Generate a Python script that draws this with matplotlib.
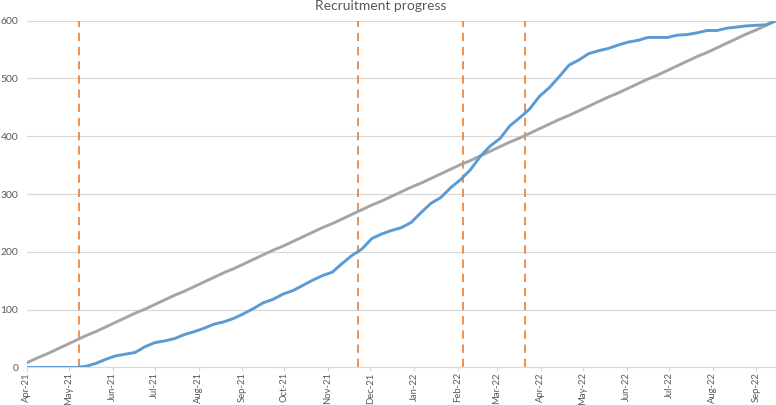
import matplotlib
matplotlib.use("Agg")
import matplotlib.pyplot as plt
import matplotlib.dates as mdates
import pandas as pd

# weekly recruitment, Apr 2021 -> Sep 2022
weeks = pd.date_range("2021-04-01", periods=77, freq="7D")

actual = [0, 0, 0, 0, 0, 0, 2, 7, 14, 20,
          23, 26, 36, 43, 46, 50, 57, 62, 68, 75,
          79, 85, 93, 102, 112, 118, 127, 133, 142, 151,
          159, 165, 180, 194, 205, 223, 231, 237, 242, 251,
          268, 284, 294, 311, 325, 342, 365, 383, 396, 418,
          432, 447, 469, 484, 503, 523, 532, 543, 548, 552,
          558, 563, 566, 571, 571, 571, 575, 576, 579, 583,
          583, 587, 589, 591, 592, 593, 600]

planned = [8, 16, 23, 31, 39, 47, 55, 62, 70, 78,
           86, 94, 101, 109, 117, 125, 132, 140, 148, 156,
           164, 171, 179, 187, 195, 203, 210, 218, 226, 234,
           242, 249, 257, 265, 273, 281, 288, 296, 304, 312,
           319, 327, 335, 343, 351, 358, 366, 374, 382, 390,
           397, 405, 413, 421, 429, 436, 444, 452, 460, 468,
           475, 483, 491, 499, 506, 514, 522, 530, 538, 545,
           553, 561, 569, 577, 584, 592, 600]

# milestone markers
milestones = ["2021-05-08", "2021-11-22", "2022-02-05", "2022-03-21"]

plt.rcParams['font.family'] = ['Lato', 'DejaVu Sans']

fig = plt.figure(figsize=(7.76, 4.05), dpi=100)
ax = fig.add_axes([0.0344, 0.0926, 0.9656, 0.8563])

grid_col = "#d9d9d9"
txt_col = "#595959"

for v in [100, 200, 300, 400, 500, 600]:
    ax.axhline(v, color=grid_col, lw=0.9, zorder=0)

for m in milestones:
    ax.axvline(pd.Timestamp(m), color="#ED7D31", lw=1.2,
               dashes=(5, 3.5), zorder=1)

ax.plot(weeks, planned, color="#A5A5A5", lw=2.1, zorder=2)
ax.plot(weeks, actual, color="#5B9BD5", lw=2.1, zorder=3)

ax.set_ylim(0, 600)
ax.set_xlim(pd.Timestamp("2021-04-01"), pd.Timestamp("2022-09-15"))
ax.set_yticks([0, 100, 200, 300, 400, 500, 600])

ax.xaxis.set_major_locator(mdates.MonthLocator())
ax.xaxis.set_major_formatter(mdates.DateFormatter("%b-%y"))
for lab in ax.get_xticklabels():
    lab.set_rotation(90)

ax.tick_params(axis="x", colors=grid_col, length=3, width=0.9, labelsize=6.8,
               labelcolor=txt_col, pad=0.5)
ax.tick_params(axis="y", length=0, labelsize=7.5, labelcolor=txt_col, pad=6)

for s in ["top", "right", "left"]:
    ax.spines[s].set_visible(False)
ax.spines["bottom"].set_color(grid_col)
ax.spines["bottom"].set_linewidth(0.9)
ax.patch.set_alpha(0)

fig.text(381/776, 1 - 6/405, "Recruitment progress", ha="center", va="center",
         fontsize=10, color=txt_col)

fig.savefig("out.png", dpi=100)
